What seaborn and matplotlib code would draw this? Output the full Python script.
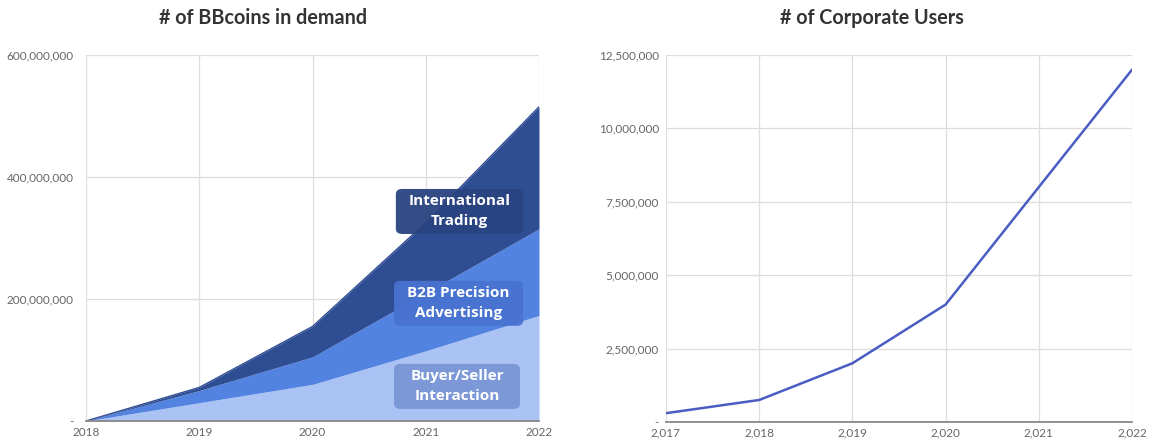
import numpy as np
import pandas as pd
import matplotlib
matplotlib.use("Agg")
import matplotlib.pyplot as plt
from matplotlib.ticker import FuncFormatter
from matplotlib.patches import FancyBboxPatch
import seaborn as sns

# ---- data ----
years_left = [2018, 2019, 2020, 2021, 2022]
buyer_seller = [0, 30e6, 60e6, 115e6, 173e6]
b2b_advertising = [0, 20e6, 45e6, 95e6, 142e6]
intl_trading = [0, 5e6, 50e6, 115e6, 200e6]
layer_names = ["Buyer/Seller\nInteraction", "B2B Precision\nAdvertising", "International\nTrading"]
left_yticks = [0, 200e6, 400e6, 600e6]

years_right = [2017, 2018, 2019, 2020, 2021, 2022]
corporate_users = [0.3e6, 0.75e6, 2.0e6, 4.0e6, 8.0e6, 12.0e6]
right_yticks = [0, 2.5e6, 5e6, 7.5e6, 10e6, 12.5e6]

title_left = "# of BBcoins in demand"
title_right = "# of Corporate Users"

sns.set_theme(style="whitegrid")
plt.rcParams['font.family'] = ['Lato', 'DejaVu Sans']

fig = plt.figure(figsize=(11.51, 4.42), dpi=100)
ax1 = fig.add_axes([86/1151, 1-421/442, (539-86)/1151, (421-55)/442])
ax2 = fig.add_axes([666/1151, 1-422/442, (1132-666)/1151, (422-55)/442])

def fmt(v, pos):
    if v == 0:
        return "-"
    return f"{v:,.0f}"

layer_colors = ["#aac3f4", "#5283e0", "#2f4d93"]
box_colors = ["#7a96d6", "#4873d0", "#2a4380"]

# left stacked area
df = pd.DataFrame({"year": years_left, "a": buyer_seller, "b": b2b_advertising, "c": intl_trading})
cum = np.zeros(len(df))
layers = [df["a"].values, df["b"].values, df["c"].values]
for vals, col in zip(layers, layer_colors):
    top = cum + vals
    ax1.fill_between(df["year"], cum, top, color=col, linewidth=0, zorder=2)
    cum = top
total = cum
sns.lineplot(x=df["year"], y=total, ax=ax1, color=layer_colors[2], linewidth=1, zorder=3)

ax1.set_xlim(2018, 2022)
ax1.set_ylim(0, 600e6)
ax1.set_xticks(years_left)
ax1.set_yticks(left_yticks)
ax1.yaxis.set_major_formatter(FuncFormatter(fmt))
ax1.set_xlabel("")
ax1.set_ylabel("")

# label boxes (axes-fraction placement)
box_extents = [(0.680, 0.033, 0.278, 0.123), (0.680, 0.260, 0.285, 0.123), (0.684, 0.511, 0.281, 0.123)]
for (bx, by, bw, bh), name, bc in zip(box_extents, layer_names, box_colors):
    ax1.add_patch(FancyBboxPatch((bx, by), bw, bh, boxstyle="round,pad=0,rounding_size=0.014",
                                 transform=ax1.transAxes, fc=bc, ec="none", alpha=0.95, zorder=4))
    ax1.text(bx + bw / 2, by + bh / 2, name, transform=ax1.transAxes, ha="center", va="center",
             color="white", fontsize=11, fontweight="bold", family=["Open Sans", "DejaVu Sans"],
             linespacing=1.55, zorder=5)

# right line
sns.lineplot(x=years_right, y=corporate_users, ax=ax2, color="#4a5dc2", linewidth=1.8, zorder=3)
ax2.set_xlim(2017, 2022)
ax2.set_ylim(0, 12.5e6)
ax2.set_xticks(years_right)
ax2.set_xticklabels([f"{y:,}" for y in years_right])
ax2.set_yticks(right_yticks)
ax2.yaxis.set_major_formatter(FuncFormatter(fmt))
ax2.set_xlabel("")
ax2.set_ylabel("")

for ax in (ax1, ax2):
    ax.set_facecolor("white")
    ax.grid(True, color="#dddddd", linewidth=0.9)
    for s in ["left", "right", "top"]:
        ax.spines[s].set_visible(False)
    ax.spines["bottom"].set_color("#888888")
    ax.spines["bottom"].set_linewidth(1.3)
    ax.spines["bottom"].set_zorder(4)
    ax.tick_params(axis="both", length=0, labelsize=8.5, colors="#666666", pad=4)
ax1.tick_params(axis="y", pad=9)
ax2.tick_params(axis="y", pad=5)
for ax in (ax1, ax2):
    ax.set_axisbelow(True)

fig.text(263/1151, 1-18/442, title_left, ha="center", va="center", fontsize=14.2,
         fontweight="bold", color="#333333")
fig.text(872/1151, 1-18/442, title_right, ha="center", va="center", fontsize=14.2,
         fontweight="bold", color="#333333")

fig.savefig("out.png", dpi=100, facecolor="white")
